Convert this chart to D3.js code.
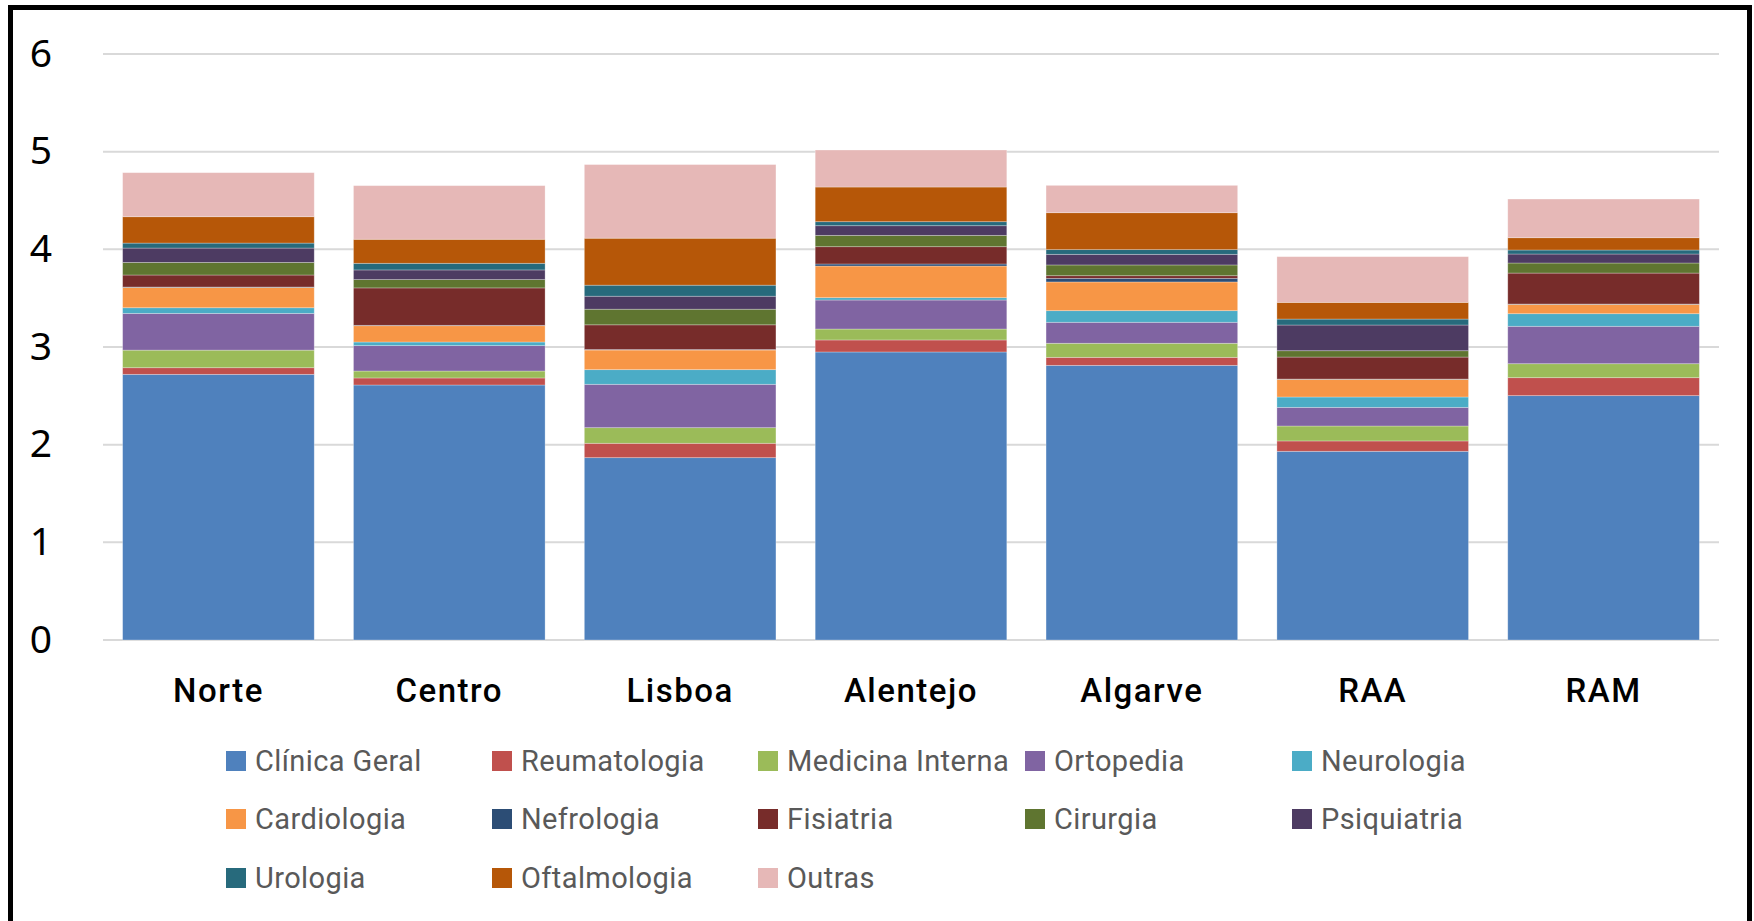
<!DOCTYPE html>
<html>
<head>
<meta charset="utf-8">
<script src="https://cdn.jsdelivr.net/npm/d3@7"></script>
<style>
  html, body { margin: 0; padding: 0; background: #fff; }
  svg { display: block; }
</style>
</head>
<body>
<svg id="chart" width="1754" height="921"></svg>
<script>
const categories = ["Norte", "Centro", "Lisboa", "Alentejo", "Algarve", "RAA", "RAM"];
const seriesNames = ["Clínica Geral", "Reumatologia", "Medicina Interna", "Ortopedia", "Neurologia",
  "Cardiologia", "Nefrologia", "Fisiatria", "Cirurgia", "Psiquiatria", "Urologia", "Oftalmologia", "Outras"];
const seriesColors = ["#4F81BD", "#C0504D", "#9BBB59", "#8064A2", "#4BACC6",
  "#F79646", "#2C4D75", "#772C2A", "#5F7530", "#4D3B62", "#276A7C", "#B65708", "#E6B8B7"];

const clinicaGeral    = [2.720, 2.611, 1.867, 2.949, 2.812, 1.932, 2.502];
const reumatologia    = [0.068, 0.072, 0.147, 0.123, 0.082, 0.106, 0.184];
const medicinaInterna = [0.180, 0.071, 0.160, 0.112, 0.144, 0.153, 0.143];
const ortopedia       = [0.376, 0.260, 0.444, 0.297, 0.215, 0.191, 0.383];
const neurologia      = [0.058, 0.037, 0.150, 0.024, 0.119, 0.106, 0.129];
const cardiologia     = [0.208, 0.167, 0.201, 0.324, 0.294, 0.181, 0.096];
const nefrologia      = [0.004, 0.004, 0.005, 0.021, 0.037, 0.003, 0.003];
const fisiatria       = [0.123, 0.383, 0.253, 0.177, 0.027, 0.225, 0.317];
const cirurgia        = [0.129, 0.085, 0.160, 0.116, 0.110, 0.065, 0.103];
const psiquiatria     = [0.147, 0.099, 0.133, 0.099, 0.109, 0.263, 0.092];
const urologia        = [0.051, 0.068, 0.113, 0.041, 0.048, 0.061, 0.041];
const oftalmologia    = [0.270, 0.246, 0.481, 0.355, 0.378, 0.171, 0.126];
const outras          = [0.451, 0.549, 0.754, 0.379, 0.280, 0.468, 0.396];

const yTicks = [0, 1, 2, 3, 4, 5, 6];

const seriesValues = [clinicaGeral, reumatologia, medicinaInterna, ortopedia, neurologia,
  cardiologia, nefrologia, fisiatria, cirurgia, psiquiatria, urologia, oftalmologia, outras];

const table = categories.map((c, i) => {
  const row = { cat: c };
  seriesNames.forEach((s, j) => { row[s] = seriesValues[j][i]; });
  return row;
});

const svg = d3.select("#chart");

svg.append("rect")
  .attr("x", 10.5).attr("y", 7.5)
  .attr("width", 1739).attr("height", 940)
  .attr("fill", "none").attr("stroke", "#000").attr("stroke-width", 5);

const x = d3.scaleBand().domain(categories).range([103, 1719])
  .paddingInner(0.17).paddingOuter(0.085);
const y = d3.scaleLinear().domain([0, 6]).range([640, 54]);

svg.append("g").selectAll("line").data(yTicks).join("line")
  .attr("x1", 103).attr("x2", 1719)
  .attr("y1", d => y(d)).attr("y2", d => y(d))
  .attr("stroke", "#D9D9D9").attr("stroke-width", 2);

svg.append("g").selectAll("text").data(yTicks).join("text")
  .attr("x", 41).attr("y", d => y(d) - 3)
  .attr("text-anchor", "middle").attr("dominant-baseline", "central")
  .attr("font-family", "'Noto Sans', sans-serif").attr("font-size", 39)
  .attr("fill", "#000")
  .text(d => d);

const stacked = d3.stack().keys(seriesNames)(table);

svg.append("g").selectAll("g").data(stacked).join("g")
  .attr("fill", (d, i) => seriesColors[i])
  .selectAll("rect").data(d => d).join("rect")
  .attr("x", d => x(d.data.cat))
  .attr("width", x.bandwidth())
  .attr("y", d => y(d[1]))
  .attr("height", d => Math.max(0, y(d[0]) - y(d[1])))
  .attr("stroke", "rgba(255,255,255,0.35)").attr("stroke-width", 0.8);

svg.append("g").selectAll("text").data(categories).join("text")
  .attr("x", d => x(d) + x.bandwidth() / 2)
  .attr("y", 702)
  .attr("text-anchor", "middle")
  .attr("font-family", "Roboto, sans-serif").attr("font-weight", 500).attr("font-size", 33)
  .attr("letter-spacing", 1.5)
  .attr("fill", "#000")
  .text(d => d);

const colX = [226, 492, 758, 1025, 1292];
const rowY = [761, 819, 878];
const leg = svg.append("g").selectAll("g").data(seriesNames).join("g")
  .attr("transform", (d, i) => `translate(${colX[i % 5]},${rowY[Math.floor(i / 5)]})`);
leg.append("rect")
  .attr("x", 0).attr("y", -10).attr("width", 20).attr("height", 20)
  .attr("fill", (d, i) => seriesColors[i]);
leg.append("text")
  .attr("x", 29).attr("y", 0)
  .attr("dominant-baseline", "central")
  .attr("font-family", "Roboto, sans-serif").attr("font-size", 29)
  .attr("letter-spacing", 0.4)
  .attr("fill", "#595959")
  .text(d => d);
</script>
</body>
</html>
